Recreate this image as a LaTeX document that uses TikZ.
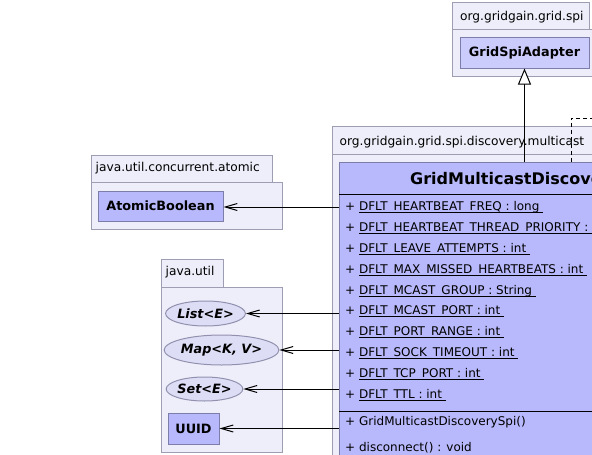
\documentclass[tikz,border=0pt]{standalone}
\usepackage{fontspec}
\setmainfont{DejaVu Sans}[ItalicFont={DejaVu Sans Oblique},BoldFont={DejaVu Sans Bold},BoldItalicFont={DejaVu Sans Bold Oblique}]
\usetikzlibrary{arrows.meta,shapes.geometric}
\definecolor{pkgfill}{RGB}{238,238,250}
\definecolor{pkgline}{RGB}{158,158,178}
\definecolor{clsfill}{RGB}{184,184,252}
\definecolor{clsline}{RGB}{125,125,170}
\definecolor{adfill}{RGB}{204,204,252}
\definecolor{ifill}{RGB}{221,221,246}
\definecolor{ifline}{RGB}{145,145,175}
\newlength\ulen
\newcommand\ulx[1]{\settowidth{\ulen}{#1}\addtolength{\ulen}{3.5pt}\rlap{\rule[-2.3pt]{\ulen}{0.9pt}}#1}
\tikzset{
  pkg/.style={fill=pkgfill,draw=pkgline,line width=1pt},
  pkgtext/.style={anchor=base west,inner sep=0pt,font=\fontsize{12.2}{14}\selectfont},
  clsbox/.style={rectangle,fill=clsfill,draw=clsline,line width=1pt,inner sep=0pt,font=\fontsize{12.8}{15}\selectfont\bfseries},
  ifbox/.style={ellipse,fill=ifill,draw=ifline,line width=1pt,inner sep=0pt,font=\fontsize{12.8}{15}\selectfont\bfseries\itshape},
  row/.style={anchor=base west,inner sep=0pt,font=\fontsize{12}{14}\selectfont},
  dep/.style={line width=1pt,-{Straight Barb[length=12pt,width=7pt,line width=1pt]}},
  inh/.style={line width=1pt,-{Triangle[open,fill=white,length=16pt,width=13pt,line width=1pt]}},
}
\begin{document}
\begin{tikzpicture}[x=1pt,y=-1pt]
\useasboundingbox (0,0) rectangle (592,455);
\clip (0,0) rectangle (592,455);
\fill[white] (0,0) rectangle (592,455);
% package org.gridgain.grid.spi
\draw[pkg] (452,2) rectangle (589,29);
\draw[pkg] (452,29) rectangle (620,76);
\node[pkgtext] (p1) at (460,20.7) {org.gridgain.grid.spi};
% package multicast
\draw[pkg] (332,126) rectangle (640,154);
\draw[pkg] (332,154) rectangle (640,480);
\node[pkgtext] (p2) at (339.5,145.7) {org.gridgain.grid.spi.discovery.multicast};
% package atomic
\draw[pkg] (91,155) rectangle (272,182);
\draw[pkg] (91,182) rectangle (282,229);
\node[pkgtext] (p3) at (95.5,171.5) {java.util.concurrent.atomic};
% package java.util
\draw[pkg] (161,259) rectangle (223,287);
\draw[pkg] (161,287) rectangle (282,452);
\node[pkgtext] (p4) at (165.5,275.8) {java.util};
% classes
\node[clsbox,fill=adfill,minimum width=129pt,minimum height=31pt] (gsa) at (524.5,52.5) {GridSpiAdapter};
\node[clsbox,minimum width=125pt,minimum height=30pt] (ab) at (160.5,206) {AtomicBoolean};
\node[clsbox,minimum width=51pt,minimum height=31pt] (uuid) at (193.5,428.5) {UUID};
\node[ifbox,minimum width=73pt,minimum height=25pt] (list) at (205.5,313.5) {List<E>};
\node[ifbox,minimum width=105pt,minimum height=30pt] (map) at (221.5,350) {Map<K, V>};
\node[ifbox,minimum width=71pt,minimum height=24pt] (set) at (204.5,389) {Set<E>};
% main class
\node[clsbox,anchor=north west,minimum width=421pt,minimum height=330pt] (gmds) at (339,162) {};
\node[anchor=base west,inner sep=0pt,font=\fontsize{16}{19}\selectfont\bfseries] (title) at (410,184) {GridMulticastDiscoverySpi};
\draw[line width=1pt] (339,194) coordinate (l1a) -- (760,194) coordinate (l1b);
\draw[line width=1pt] (339,411) coordinate (l2a) -- (760,411) coordinate (l2b);
\node[row] (a1) at (345,210.7) {+ \ulx{DFLT\_HEARTBEAT\_FREQ : long}};
\node[row] (a2) at (345,231.55) {+ \ulx{DFLT\_HEARTBEAT\_THREAD\_PRIORITY : int}};
\node[row] (a3) at (345,252.4) {+ \ulx{DFLT\_LEAVE\_ATTEMPTS : int}};
\node[row] (a4) at (345,273.25) {+ \ulx{DFLT\_MAX\_MISSED\_HEARTBEATS : int}};
\node[row] (a5) at (345,294.1) {+ \ulx{DFLT\_MCAST\_GROUP : String}};
\node[row] (a6) at (345,314.95) {+ \ulx{DFLT\_MCAST\_PORT : int}};
\node[row] (a7) at (345,335.8) {+ \ulx{DFLT\_PORT\_RANGE : int}};
\node[row] (a8) at (345,356.65) {+ \ulx{DFLT\_SOCK\_TIMEOUT : int}};
\node[row] (a9) at (345,377.5) {+ \ulx{DFLT\_TCP\_PORT : int}};
\node[row] (a10) at (345,398.35) {+ \ulx{DFLT\_TTL : int}};
\node[row] (m1) at (345,425) {+ GridMulticastDiscoverySpi()};
\node[row] (m2) at (345,451.7) {+ disconnect() : void};
% connectors
\draw[inh] (gsa.south |- gmds.north) -- (gsa.south);
\coordinate (dk) at (571,118);
\coordinate (dr) at (640,118);
\draw[line width=1pt,dash pattern=on 4pt off 3pt] (gmds.north -| dk) -- (dk) -- (dr);
\draw[dep] (gmds.west |- 0,207) -- (ab.east |- 0,207);
\draw[dep] (gmds.west |- list.east) -- (list.east);
\draw[dep] (gmds.west |- map.east) -- (map.east);
\draw[dep] (gmds.west |- set.east) -- (set.east);
\draw[dep] (gmds.west |- uuid.east) -- (uuid.east);
\end{tikzpicture}
\end{document}
